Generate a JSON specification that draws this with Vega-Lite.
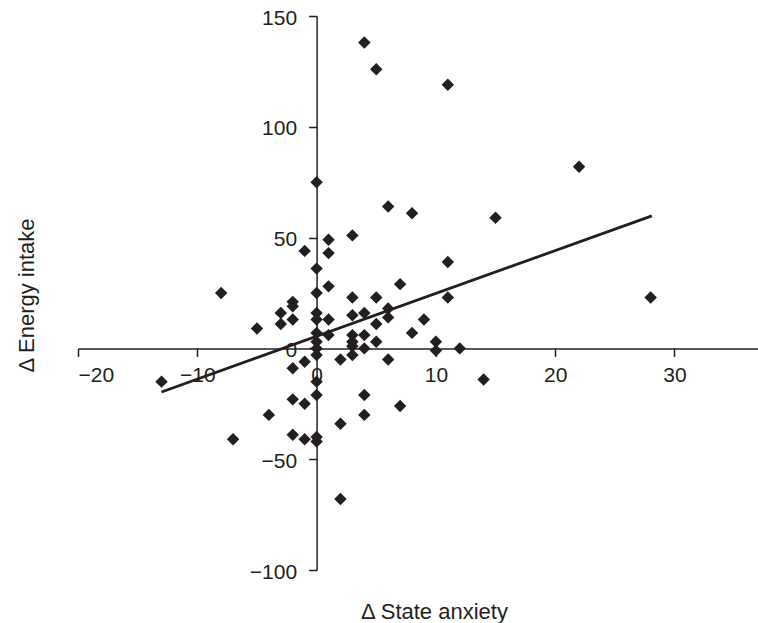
{
  "$schema": "https://vega.github.io/schema/vega-lite/v6.json",
  "width": 680,
  "height": 554,
  "autosize": {"type": "none"},
  "padding": {"left": 78, "top": 16, "right": 0, "bottom": 53},
  "background": "white",
  "config": {
    "view": {"stroke": null},
    "font": "Liberation Sans",
    "axis": {
      "grid": false,
      "domainColor": "#231f20",
      "domainWidth": 1.5,
      "tickColor": "#231f20",
      "tickWidth": 1.5,
      "tickSize": 8,
      "labelFont": "Liberation Sans",
      "labelFontSize": 21,
      "labelColor": "#231f20",
      "titleFont": "Liberation Sans",
      "titleFontSize": 22,
      "titleFontWeight": "normal",
      "titleColor": "#231f20"
    }
  },
  "datasets": {
    "points": [
      {"anxiety": 4, "energy": 138}, {"anxiety": 5, "energy": 126}, {"anxiety": 11, "energy": 119},
      {"anxiety": 0, "energy": 75}, {"anxiety": 22, "energy": 82}, {"anxiety": 6, "energy": 64},
      {"anxiety": 8, "energy": 61}, {"anxiety": 15, "energy": 59}, {"anxiety": 3, "energy": 51},
      {"anxiety": 1, "energy": 49}, {"anxiety": -1, "energy": 44}, {"anxiety": 1, "energy": 43},
      {"anxiety": 11, "energy": 39}, {"anxiety": 0, "energy": 36}, {"anxiety": 7, "energy": 29},
      {"anxiety": 1, "energy": 28}, {"anxiety": -8, "energy": 25}, {"anxiety": 0, "energy": 25},
      {"anxiety": 3, "energy": 23}, {"anxiety": 5, "energy": 23}, {"anxiety": 11, "energy": 23},
      {"anxiety": 28, "energy": 23}, {"anxiety": -2, "energy": 21}, {"anxiety": -2, "energy": 19},
      {"anxiety": 6, "energy": 18}, {"anxiety": 0, "energy": 16}, {"anxiety": -3, "energy": 16},
      {"anxiety": 4, "energy": 16}, {"anxiety": 3, "energy": 15}, {"anxiety": 6, "energy": 14},
      {"anxiety": 0, "energy": 13}, {"anxiety": 1, "energy": 13}, {"anxiety": -2, "energy": 13},
      {"anxiety": 9, "energy": 13}, {"anxiety": -3, "energy": 11}, {"anxiety": 5, "energy": 11},
      {"anxiety": -5, "energy": 9}, {"anxiety": 0, "energy": 7}, {"anxiety": 8, "energy": 7},
      {"anxiety": 1, "energy": 6}, {"anxiety": 3, "energy": 6}, {"anxiety": 4, "energy": 6},
      {"anxiety": 5, "energy": 3}, {"anxiety": 0, "energy": 3}, {"anxiety": 10, "energy": 3},
      {"anxiety": 3, "energy": 3}, {"anxiety": 3, "energy": 1}, {"anxiety": 0, "energy": 0},
      {"anxiety": 4, "energy": 0}, {"anxiety": 12, "energy": 0}, {"anxiety": 10, "energy": -1},
      {"anxiety": 0, "energy": -3}, {"anxiety": 3, "energy": -3}, {"anxiety": 6, "energy": -5},
      {"anxiety": 2, "energy": -5}, {"anxiety": -1, "energy": -6}, {"anxiety": -2, "energy": -9},
      {"anxiety": -13, "energy": -15}, {"anxiety": 0, "energy": -15}, {"anxiety": 14, "energy": -14},
      {"anxiety": 0, "energy": -21}, {"anxiety": 4, "energy": -21}, {"anxiety": -2, "energy": -23},
      {"anxiety": -1, "energy": -25}, {"anxiety": 7, "energy": -26}, {"anxiety": -4, "energy": -30},
      {"anxiety": 4, "energy": -30}, {"anxiety": 2, "energy": -34}, {"anxiety": -2, "energy": -39},
      {"anxiety": -1, "energy": -41}, {"anxiety": 0, "energy": -40}, {"anxiety": 0, "energy": -42},
      {"anxiety": -7, "energy": -41}, {"anxiety": 2, "energy": -68}
    ],
    "fit": [
      {"anxiety": -13, "energy": -19.7},
      {"anxiety": 28.1, "energy": 59.8}
    ]
  },
  "layer": [
    {
      "data": {"name": "points"},
      "mark": {"type": "point", "shape": "diamond", "filled": true, "size": 155, "color": "#231f20", "opacity": 1},
      "encoding": {
        "x": {
          "field": "anxiety", "type": "quantitative",
          "scale": {"domain": [-20, 37], "nice": false, "zero": false},
          "axis": {
            "orient": "bottom",
            "offset": -221.6,
            "values": [-20, -10, 0, 10, 20, 30],
            "labelPadding": 8,
            "labelBaseline": "top",
            "title": "Δ State anxiety",
            "titleX": 356,
            "titleY": 269.6,
            "titleBaseline": "alphabetic",
            "titleAnchor": "middle"
          }
        },
        "y": {
          "field": "energy", "type": "quantitative",
          "scale": {"domain": [-100, 150], "nice": false, "zero": false},
          "axis": {
            "orient": "left",
            "offset": -238.6,
            "values": [-100, -50, 0, 50, 100, 150],
            "labelPadding": 12,
            "labelOffset": 2,
            "title": "Δ Energy intake",
            "titleAngle": -90,
            "titleX": -283.6,
            "titleY": 279,
            "titleBaseline": "alphabetic",
            "titleAnchor": "middle"
          }
        }
      }
    },
    {
      "data": {"name": "fit"},
      "mark": {"type": "line", "color": "#231f20", "strokeWidth": 2.8},
      "encoding": {
        "x": {"field": "anxiety", "type": "quantitative"},
        "y": {"field": "energy", "type": "quantitative"}
      }
    }
  ]
}
